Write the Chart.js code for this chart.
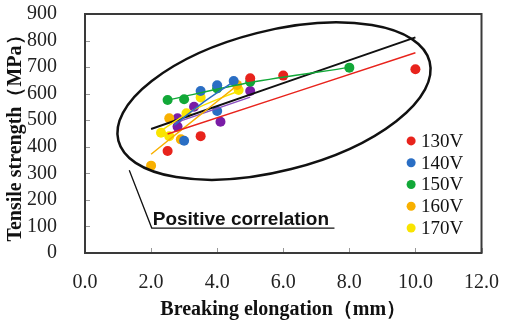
<!DOCTYPE html>
<html>
<head>
<meta charset="utf-8">
<script src="https://cdn.jsdelivr.net/npm/chart.js@4/dist/chart.umd.min.js"></script>
<style>
  html, body { margin: 0; padding: 0; background: #fff; }
  #wrap { width: 509px; height: 326px; }
</style>
</head>
<body>
<div id="wrap"><canvas id="myChart"></canvas></div>
<script>
// values: [elongation mm, tensile strength MPa]
const pts130 = [[2.5, 384], [3.5, 440], [5.0, 658], [6.0, 668], [10.0, 692]];
const pts140 = [[3.0, 423], [3.5, 610], [4.0, 632], [4.0, 535], [4.5, 648]];
const pts150 = [[2.5, 576], [3.0, 579], [4.0, 620], [5.0, 645], [8.0, 698]];
const pts160 = [[2.0, 329], [2.9, 428], [2.55, 507], [4.6, 633]];
const pts170 = [[2.3, 453], [2.55, 440], [3.07, 526], [3.5, 586], [4.65, 614]];
const ptsPurple = [[2.8, 507], [2.8, 476], [3.3, 551], [4.1, 494], [5.0, 610]];

// trend lines as drawn in the picture
const fit130 = [[2.5, 448], [10.0, 754]];
const fit140 = [[2.7, 481], [3.5, 560], [4.5, 645]];
const fit150 = [[2.5, 576], [5.0, 642], [8.0, 699]];
const fit160 = [[2.0, 372], [2.9, 462], [4.6, 630]];
const fit170 = [[2.2, 452], [3.3, 540], [4.7, 613]];
const fitPurple = [[2.7, 489], [5.0, 587]];
const fitAll = [[2.0, 467], [10.0, 812]];

const seriesNames = ['130V', '140V', '150V', '160V', '170V'];
const colors = ['#e8231c', '#2a6ec4', '#12a838', '#f8b000', '#f9e400'];
const purple = '#7a1ca6';

const xTicks = [0, 2, 4, 6, 8, 10, 12];
const yTicks = [0, 100, 200, 300, 400, 500, 600, 700, 800, 900];

const toXY = arr => arr.map(p => ({ x: p[0], y: p[1] }));

const scatterSets = [pts130, pts140, pts150, pts160, pts170].map((d, i) => ({
  type: 'scatter',
  label: seriesNames[i],
  data: toXY(d),
  backgroundColor: colors[i],
  borderWidth: 0,
  pointRadius: 5,
  order: 3
}));
scatterSets.push({
  type: 'scatter', label: '', data: toXY(ptsPurple),
  backgroundColor: purple, borderWidth: 0, pointRadius: 5, order: 3
});

const lineSets = [
  [fit130, colors[0]], [fit140, colors[1]], [fit150, colors[2]],
  [fit160, colors[3]], [fit170, colors[4]], [fitPurple, '#8a4fc0'], [fitAll, '#111']
].map(([d, c], i) => ({
  type: 'line', label: '', data: toXY(d),
  borderColor: c, borderWidth: i === 6 ? 2 : 1.5,
  pointRadius: 0, fill: false, tension: 0.3, order: 1
}));

const serif = '"Liberation Serif", "Times New Roman", serif';

const overlay = {
  id: 'overlay',
  afterDatasetsDraw(chart) {
    const { ctx, chartArea: a, scales: { x, y } } = chart;
    const ux = x.getPixelForValue(1) - x.getPixelForValue(0);
    const uy = y.getPixelForValue(0) - y.getPixelForValue(100);
    ctx.save();

    // frame + inward ticks
    ctx.strokeStyle = '#999';
    ctx.lineWidth = 1;
    yTicks.forEach(v => {
      const py = Math.round(y.getPixelForValue(v)) + 0.5;
      ctx.beginPath(); ctx.moveTo(a.left, py); ctx.lineTo(a.left + 5, py); ctx.stroke();
    });
    xTicks.forEach(v => {
      const px = Math.round(x.getPixelForValue(v)) + 0.5;
      ctx.beginPath(); ctx.moveTo(px, a.bottom); ctx.lineTo(px, a.bottom - 5); ctx.stroke();
    });
    ctx.strokeStyle = '#3a3a3a';
    ctx.lineWidth = 2;
    ctx.strokeRect(a.left, a.top, a.right - a.left, a.bottom - a.top);

    // ellipse
    ctx.strokeStyle = '#111';
    ctx.lineWidth = 2.5;
    ctx.beginPath();
    ctx.ellipse(x.getPixelForValue(5.72), y.getPixelForValue(572), 4.86 * ux, 2.64 * uy, -14.25 * Math.PI / 180, 0, Math.PI * 2);
    ctx.stroke();

    // leader line and label
    ctx.lineWidth = 1.3;
    ctx.beginPath();
    ctx.moveTo(x.getPixelForValue(1.34), y.getPixelForValue(312));
    ctx.lineTo(x.getPixelForValue(2.02), y.getPixelForValue(94));
    ctx.lineTo(x.getPixelForValue(7.55), y.getPixelForValue(94));
    ctx.stroke();
    ctx.fillStyle = '#111';
    ctx.font = 'bold 19px "Liberation Sans Narrow", "Liberation Sans", Arial, sans-serif';
    ctx.textBaseline = 'alphabetic';
    ctx.fillText('Positive correlation', x.getPixelForValue(2.05), y.getPixelForValue(104));

    // legend
    ctx.font = '19px ' + serif;
    ctx.textBaseline = 'middle';
    seriesNames.forEach((n, i) => {
      const cy = y.getPixelForValue(422 - i * 82);
      const cx = x.getPixelForValue(9.87);
      ctx.fillStyle = colors[i];
      ctx.beginPath(); ctx.arc(cx, cy, 4.5, 0, Math.PI * 2); ctx.fill();
      ctx.fillStyle = '#111';
      ctx.fillText(n, cx + 10, cy + 1);
    });
    ctx.restore();
  }
};

new Chart(document.getElementById('myChart'), {
  data: { datasets: [...lineSets, ...scatterSets] },
  options: {
    responsive: true,
    maintainAspectRatio: false,
    animation: false,
    layout: { padding: { top: 14, right: 21, left: 4, bottom: 0 } },
    plugins: { legend: { display: false }, tooltip: { enabled: false } },
    scales: {
      x: {
        type: 'linear', min: 0, max: 12,
        afterBuildTicks: s => { s.ticks = xTicks.map(v => ({ value: v })); },
        afterFit: s => { s.height = 73; },
        grid: { display: false },
        border: { display: false },
        ticks: { color: '#222', padding: 10, maxRotation: 0, autoSkip: false,
          font: { family: serif, size: 20 },
          callback: v => v.toFixed(1) },
        title: { display: true, text: 'Breaking elongation（mm）', color: '#111',
          font: { family: serif, size: 20, weight: 'bold' },
          padding: { top: 2 } }
      },
      y: {
        type: 'linear', min: 0, max: 900,
        afterBuildTicks: s => { s.ticks = yTicks.map(v => ({ value: v })); },
        afterFit: s => { s.width = 81; s.paddingTop = 0; s.paddingBottom = 0; },
        grid: { display: false },
        border: { display: false },
        ticks: { color: '#222', padding: 20, autoSkip: false,
          font: { family: serif, size: 20 } },
        title: { display: true, text: 'Tensile strength（MPa）', color: '#111',
          font: { family: serif, size: 20, weight: 'bold' },
          padding: { bottom: 0, top: 0 } }
      }
    }
  },
  plugins: [overlay]
});
</script>
</body>
</html>
